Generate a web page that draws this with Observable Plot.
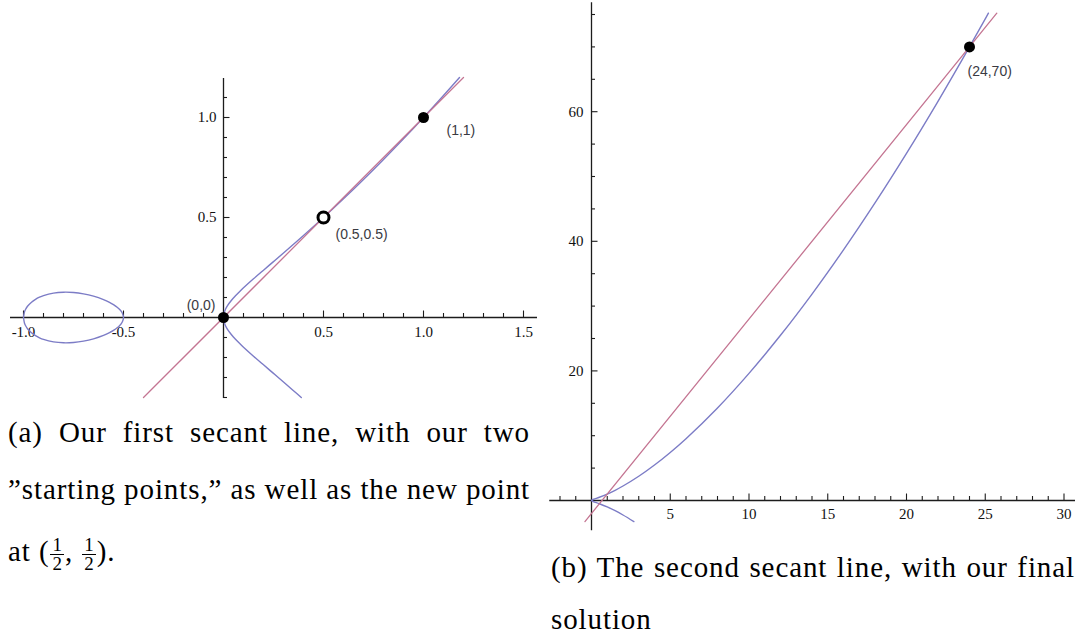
<!DOCTYPE html>
<html>
<head>
<meta charset="utf-8">
<script src="https://cdn.jsdelivr.net/npm/d3@7"></script>
<script src="https://cdn.jsdelivr.net/npm/@observablehq/plot@0.6"></script>
<style>
  html, body { margin: 0; padding: 0; background: #fff; }
  #root { position: relative; width: 1077px; height: 636px; background: #fff; overflow: hidden; }
  .panel { position: absolute; top: 0; }
  .cap { position: absolute; font-family: "Liberation Serif", "Times New Roman", Times, serif; font-size: 29px; line-height: 20px;
         letter-spacing: 0.9px; white-space: nowrap; text-align: justify; text-align-last: justify; color: #000; }
  .cap.last { text-align: left; text-align-last: left; }
  .frac { display: inline-flex; flex-direction: column; align-items: center; vertical-align: middle;
          font-size: 19px; line-height: 18px; margin: 0 1px; letter-spacing: 0; }
  .frac .num { border-bottom: 1.2px solid #000; padding: 0 2px; }
</style>
</head>
<body>
<div id="root">
  <div id="panelA" class="panel" style="left:0px"></div>
  <div id="panelB" class="panel" style="left:540px"></div>
  <div class="cap" style="left:8px; width:522px; top:422px">(a) Our first secant line, with our two</div>
  <div class="cap" style="left:8px; width:522px; top:479px">”starting points,” as well as the new point</div>
  <div class="cap last" style="left:8px; top:536px">at (<span class="frac"><span class="num">1</span><span>2</span></span>, <span class="frac"><span class="num">1</span><span>2</span></span>).</div>
  <div class="cap" style="left:551px; width:524px; top:557px">(b) The second secant line, with our final</div>
  <div class="cap last" style="left:551px; top:609px">solution</div>
</div>
<script>
// ---------- Panel (a) data ----------
// closed loop of the curve between x = -1 and x = -0.5
const loopX = [-1, -0.995, -0.99, -0.98, -0.96, -0.94, -0.92, -0.9, -0.85, -0.8, -0.75, -0.7, -0.65, -0.6, -0.57, -0.55, -0.53, -0.52, -0.51, -0.505, -0.5,
               -0.505, -0.51, -0.52, -0.53, -0.55, -0.57, -0.6, -0.65, -0.7, -0.75, -0.8, -0.85, -0.9, -0.92, -0.94, -0.96, -0.98, -0.99, -0.995, -1];
const loopY = [0, 0.0287, 0.0402, 0.0560, 0.0767, 0.0910, 0.1015, 0.1095, 0.1220, 0.1265, 0.1250, 0.1183, 0.1067, 0.0894, 0.0756, 0.0642, 0.0499, 0.0408, 0.0289, 0.0204, 0,
               -0.0204, -0.0289, -0.0408, -0.0499, -0.0642, -0.0756, -0.0894, -0.1067, -0.1183, -0.1250, -0.1265, -0.1220, -0.1095, -0.1015, -0.0910, -0.0767, -0.0560, -0.0402, -0.0287, 0];
// unbounded branch, as shown in panel (a)
const branchAX = [1.18, 1.1, 1.0, 0.9, 0.8, 0.7, 0.6, 0.5, 0.4, 0.35, 0.3, 0.25, 0.2, 0.15, 0.1, 0.08, 0.06, 0.04, 0.02, 0.01, 0.005, 0.002, 0,
                  0.002, 0.005, 0.01, 0.02, 0.04, 0.06, 0.08, 0.1, 0.15, 0.2, 0.25, 0.3, 0.35, 0.389];
const branchAY = [1.2, 1.10995, 1, 0.89331, 0.78994, 0.68993, 0.59330, 0.5, 0.40988, 0.36589, 0.32249, 0.27951, 0.23664, 0.19333, 0.14832, 0.12924, 0.10896, 0.08653, 0.05946, 0.04144, 0.02908, 0.01831, 0,
                  -0.01831, -0.02908, -0.04144, -0.05946, -0.08653, -0.10896, -0.12924, -0.14832, -0.19333, -0.23664, -0.27951, -0.32249, -0.36589, -0.4];
// first secant line
const secantAX = [-0.4, 1.2];
const secantAY = [-0.4, 1.2];
// points
const startPointsX = [0, 1];
const startPointsY = [0, 1];
const startLabels = ["(0,0)", "(1,1)"];
const newPointX = [0.5];
const newPointY = [0.5];
const newPointLabel = ["(0.5,0.5)"];
// ticks
const aXMajor = [-1, -0.5, 0.5, 1, 1.5];
const aXLabels = ["-1.0", "-0.5", "0.5", "1.0", "1.5"];
const aYMajor = [0.5, 1];
const aYLabels = ["0.5", "1.0"];

// ---------- Panel (b) data ----------
const branchBX = [25.2, 25, 24, 22, 20, 18, 16, 14, 12, 10, 8, 6, 5, 4, 3, 2, 1.5, 1, 0.5, 0.2, 0.05, 0,
                  0.05, 0.2, 0.5, 1, 1.5, 2, 2.69];
const branchBY = [75.2067, 74.3303, 70, 61.6036, 53.5724, 45.9238, 38.6782, 31.8591, 25.4951, 19.6214, 14.2829, 9.5394, 7.4162, 5.4772, 3.7417, 2.2361, 1.5811, 1, 0.5, 0.2366, 0.0981, 0,
                  -0.0981, -0.2366, -0.5, -1, -1.5811, -2.2361, -3.25];
const secantBX = [-0.4167, 25.733];
const secantBY = [-3.25, 75.2];
const finalPointX = [24];
const finalPointY = [70];
const finalLabel = ["(24,70)"];
const bXMajor = [5, 10, 15, 20, 25, 30];
const bXLabels = ["5", "10", "15", "20", "25", "30"];
const bYMajor = [20, 40, 60];
const bYLabels = ["20", "40", "60"];

// ---------- drawing ----------
const BLUE = "#7c7cc6";
const PINK = "#c47592";
const AXIS = "#1c1c1c";
const TICKFONT = "'Liberation Serif', serif";
const LABELFONT = "'Liberation Sans', sans-serif";

const pts = (xs, ys, extra) => xs.map((x, i) => ({x, y: ys[i], ...(extra ? {label: extra[i]} : {})}));

function axes({kx, ky, xExt, yExt, xMajor, xLabels, xMinor, yMajor, yLabels, yMinor, xLabelDy, yLabelDx}) {
  const st = {stroke: AXIS, strokeWidth: 1.1};
  const xt = xMajor.map((v, i) => ({v, label: xLabels[i]}));
  const yt = yMajor.map((v, i) => ({v, label: yLabels[i]}));
  return [
    Plot.ruleY([0], {x1: () => xExt[0], x2: () => xExt[1], ...st, strokeWidth: 1.3}),
    Plot.ruleX([0], {y1: () => yExt[0], y2: () => yExt[1], ...st, strokeWidth: 1.3}),
    Plot.ruleX(xMinor, {x: d => d, y1: () => 0, y2: () => 4 / ky, ...st}),
    Plot.ruleX(xMajor, {x: d => d, y1: () => 0, y2: () => 6.5 / ky, ...st}),
    Plot.ruleY(yMinor, {y: d => d, x1: () => 0, x2: () => 4 / kx, ...st}),
    Plot.ruleY(yMajor, {y: d => d, x1: () => 0, x2: () => 6.5 / kx, ...st}),
    Plot.text(xt, {x: "v", y: () => 0, text: "label", dy: xLabelDy, textAnchor: "middle", lineAnchor: "middle",
                   fontFamily: TICKFONT, fontSize: 15, fill: "#111"}),
    Plot.text(yt, {x: () => 0, y: "v", text: "label", dx: yLabelDx, textAnchor: "end", lineAnchor: "middle",
                   fontFamily: TICKFONT, fontSize: 15, fill: "#111"})
  ];
}

// Panel (a): 200 px per unit, origin at (223, 317)
{
  const width = 545, height = 405;
  const kx = 200, ky = 200;
  const xDomain = [-223 / kx, (width - 223) / kx];
  const yDomain = [(317 - height) / ky, 317 / ky];
  const starts = pts(startPointsX, startPointsY, startLabels);
  const np = pts(newPointX, newPointY, newPointLabel);
  const chart = Plot.plot({
    width, height, margin: 0,
    x: {domain: xDomain, axis: null},
    y: {domain: yDomain, axis: null},
    style: {background: "transparent", overflow: "visible"},
    marks: [
      ...axes({kx, ky, xExt: [-1.065, 1.57], yExt: [-0.405, 1.195],
               xMajor: aXMajor, xLabels: aXLabels, xMinor: d3.range(-10, 16).filter(v => v % 5 !== 0).map(v => v / 10),
               yMajor: aYMajor, yLabels: aYLabels, yMinor: d3.range(-4, 12).filter(v => v % 5 !== 0).map(v => v / 10),
               xLabelDy: 15, yLabelDx: -7}),
      Plot.line(pts(loopX, loopY), {x: "x", y: "y", stroke: BLUE, strokeWidth: 1.4, curve: "catmull-rom"}),
      Plot.line(pts(branchAX, branchAY), {x: "x", y: "y", stroke: BLUE, strokeWidth: 1.4, curve: "catmull-rom"}),
      Plot.line(pts(secantAX, secantAY), {x: "x", y: "y", stroke: PINK, strokeWidth: 1.3}),
      Plot.dot(starts, {x: "x", y: "y", r: 5.5, fill: "#000", stroke: "none"}),
      Plot.dot(np, {x: "x", y: "y", r: 5.5, fill: "#fff", stroke: "#000", strokeWidth: 3}),
      Plot.text(starts.slice(0, 1), {x: "x", y: "y", text: "label", dx: -8, dy: -12, textAnchor: "end", lineAnchor: "middle",
                                     fontFamily: LABELFONT, fontSize: 14, fill: "#3a3a42"}),
      Plot.text(starts.slice(1), {x: "x", y: "y", text: "label", dx: 23, dy: 13, textAnchor: "start", lineAnchor: "middle",
                                  fontFamily: LABELFONT, fontSize: 14, fill: "#3a3a42"}),
      Plot.text(np, {x: "x", y: "y", text: "label", dx: 12, dy: 17, textAnchor: "start", lineAnchor: "middle",
                     fontFamily: LABELFONT, fontSize: 14, fill: "#3a3a42"})
    ]
  });
  document.getElementById("panelA").appendChild(chart);
}

// Panel (b): 15.75 px per x unit, 6.48 px per y unit, origin at (591, 500) in page coords
{
  const width = 537, height = 545;
  const kx = 15.75, ky = 6.48;
  const ox = 591 - 540, oy = 500;
  const xDomain = [-ox / kx, (width - ox) / kx];
  const yDomain = [(oy - height) / ky, oy / ky];
  const fp = pts(finalPointX, finalPointY, finalLabel);
  const chart = Plot.plot({
    width, height, margin: 0,
    x: {domain: xDomain, axis: null},
    y: {domain: yDomain, axis: null},
    style: {background: "transparent", overflow: "visible"},
    marks: [
      ...axes({kx, ky, xExt: [-2.65, 30.73], yExt: [-4.65, 76.8],
               xMajor: bXMajor, xLabels: bXLabels, xMinor: d3.range(-2, 31).filter(v => v !== 0 && v % 5 !== 0),
               yMajor: bYMajor, yLabels: bYLabels, yMinor: d3.range(5, 80, 5).filter(v => v % 20 !== 0),
               xLabelDy: 14, yLabelDx: -8}),
      Plot.line(pts(branchBX, branchBY), {x: "x", y: "y", stroke: BLUE, strokeWidth: 1.4, curve: "catmull-rom"}),
      Plot.line(pts(secantBX, secantBY), {x: "x", y: "y", stroke: PINK, strokeWidth: 1.3}),
      Plot.dot(fp, {x: "x", y: "y", r: 5.5, fill: "#000", stroke: "none"}),
      Plot.text(fp, {x: "x", y: "y", text: "label", dx: -2, dy: 25, textAnchor: "start", lineAnchor: "middle",
                     fontFamily: LABELFONT, fontSize: 14, fill: "#3a3a42"})
    ]
  });
  document.getElementById("panelB").appendChild(chart);
}
</script>
</body>
</html>
